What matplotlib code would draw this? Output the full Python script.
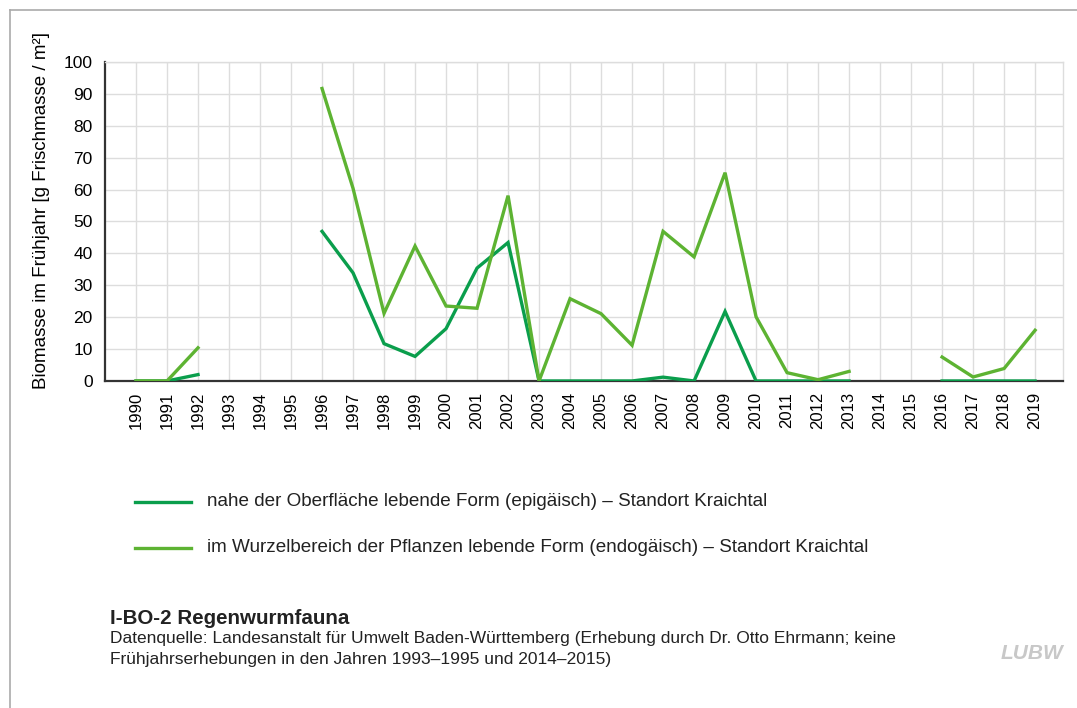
import numpy as np
import matplotlib.pyplot as plt
from matplotlib.lines import Line2D

plt.rcParams['font.family'] = ['Liberation Sans', 'DejaVu Sans']

# Jahre der Frühjahrserhebung (Lücken: 1993-1995, 2014-2015)
jahre = list(range(1990, 2020))
nan = np.nan

# Biomasse [g Frischmasse / m²], Standort Kraichtal
epigaeisch = [0, 0, 2.0, nan, nan, nan, 46.9, 33.9, 11.7, 7.7,
              16.4, 35.4, 43.4, 0, 0, 0, 0, 1.2, 0, 21.8,
              0, 0, 0, 0, nan, nan, 0, 0, 0, 0]
endogaeisch = [0, 0, 10.4, nan, nan, nan, 91.7, 60.4, 21.2, 42.3,
               23.5, 22.8, 58.1, 0, 25.8, 21.1, 11.2, 46.9, 38.9, 65.3,
               20.1, 2.6, 0.4, 3.0, nan, nan, 7.5, 1.25, 3.9, 15.9]

label_epi = "nahe der Oberfläche lebende Form (epigäisch) – Standort Kraichtal"
label_endo = "im Wurzelbereich der Pflanzen lebende Form (endogäisch) – Standort Kraichtal"

farbe_epi = '#0a9e4c'
farbe_endo = '#5db332'

fig = plt.figure(figsize=(10.77, 7.08), dpi=100)
ax = fig.add_axes([0.0975, 0.4619, 0.8895, 0.4505])

ax.plot(jahre, epigaeisch, color=farbe_epi, lw=2.4, solid_joinstyle='miter', zorder=3)
ax.plot(jahre, endogaeisch, color=farbe_endo, lw=2.4, solid_joinstyle='miter', zorder=4)

ax.set_xlim(1989, 2019.9)
ax.set_ylim(0, 100)
ax.set_xticks(jahre)
ax.set_xticklabels([str(j) for j in jahre], rotation=90, fontsize=12)
ax.set_yticks(range(0, 101, 10))
ax.tick_params(axis='y', length=0, pad=9, labelsize=12.5)
ax.tick_params(axis='x', length=0, pad=8)
ax.grid(True, color='#dddddd', lw=1)
ax.set_axisbelow(True)

for s in ['top', 'right']:
    ax.spines[s].set_color('#dddddd')
    ax.spines[s].set_linewidth(1)
for s in ['left', 'bottom']:
    ax.spines[s].set_color('#333333')
    ax.spines[s].set_linewidth(1.6)

ax.set_ylabel("Biomasse im Frühjahr [g Frischmasse / m²]", fontsize=13.5)
ax.yaxis.set_label_coords(-0.057, 0.533)

# Legende unterhalb des Diagramms
for y, farbe, text in [(0.291, farbe_epi, label_epi), (0.226, farbe_endo, label_endo)]:
    fig.add_artist(Line2D([0.125, 0.177], [y, y], color=farbe, lw=2.4))
    fig.text(0.192, y, text, fontsize=13.6, va='center', color='#222222')

# Titel und Quelle
fig.text(0.102, 0.127, "I-BO-2 Regenwurmfauna", fontsize=14.8, fontweight='bold',
         color='#222222', va='center')
fig.text(0.102, 0.098, "Datenquelle: Landesanstalt für Umwelt Baden-Württemberg "
         "(Erhebung durch Dr. Otto Ehrmann; keine", fontsize=12.5, color='#222222', va='center')
fig.text(0.102, 0.068, "Frühjahrserhebungen in den Jahren 1993–1995 und 2014–2015)",
         fontsize=12.5, color='#222222', va='center')

fig.text(0.987, 0.077, "LUBW", fontsize=15, fontweight='bold', fontstyle='italic',
         color='#c8c8c8', ha='right', va='center')

# Rahmen oben und links
fig.add_artist(Line2D([0.0093, 1.0], [0.986, 0.986], color='#aaaaaa', lw=1.2))
fig.add_artist(Line2D([0.0093, 0.0093], [0.0, 0.986], color='#aaaaaa', lw=1.2))

fig.savefig('out.png', dpi=100)
